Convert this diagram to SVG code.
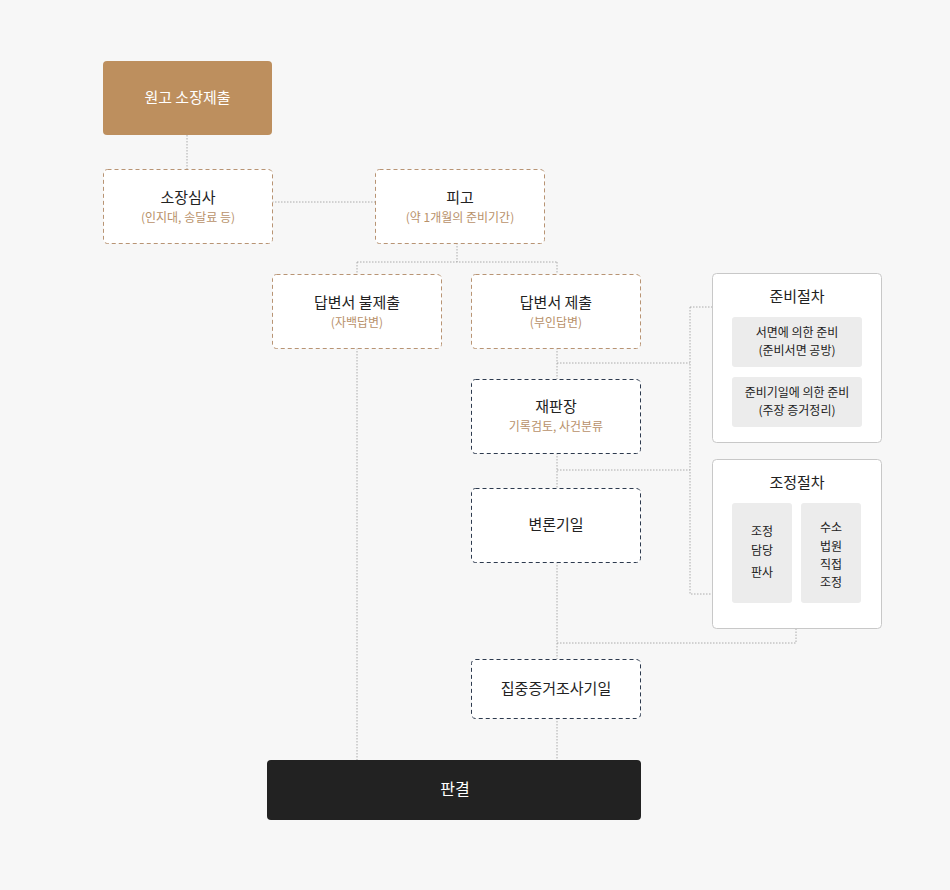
<svg xmlns="http://www.w3.org/2000/svg" width="950" height="890" viewBox="0 0 950 890">
<style>
text{font-family:"Noto Sans CJK KR","Noto Sans",sans-serif;text-anchor:middle}
.t{font-size:15px;fill:#222}
.s{font-size:12px;fill:#b8916a}
.tan{fill:#fff;stroke:#b89474;stroke-dasharray:4 3}
.navy{fill:#fff;stroke:#2d3a4e;stroke-dasharray:4 3}
.panel{fill:#fff;stroke:#c8c8c8}
.gray{fill:#ececec}
.g{font-size:12px;fill:#222}
.c{fill:none;stroke:#999;stroke-width:0.8;stroke-dasharray:1.5 1.5}
</style>
<rect width="950" height="890" fill="#f7f7f7"/>
<g id="connectors">
<path class="c" d="M187 135V169M272 202H375M457 243V262M357 262H557M357 262V274M557 262V274M357 348V760M557 348V379M557 363H690M690 307H712M690 307V594H712M557 453V488M557 470H690M557 562V659M557 643H796V628M557 718V760"/>
</g>
<g id="n1"><rect x="103" y="61" width="169" height="74" rx="4" fill="#bd8f5e"/><text x="187.5" y="103" font-size="15" fill="#fff">원고 소장제출</text></g>
<g id="n2"><rect class="tan" x="103.5" y="169.5" width="169" height="74" rx="4"/><text class="t" x="188" y="203">소장심사</text><text class="s" x="188" y="222">(인지대, 송달료 등)</text></g>
<g id="n3"><rect class="tan" x="375.5" y="169.5" width="169" height="74" rx="4"/><text class="t" x="460" y="203">피고</text><text class="s" x="460" y="222">(약 1개월의 준비기간)</text></g>
<g id="n4"><rect class="tan" x="272.5" y="274.5" width="169" height="74" rx="4"/><text class="t" x="357" y="308">답변서 불제출</text><text class="s" x="357" y="327">(자백답변)</text></g>
<g id="n5"><rect class="tan" x="471.5" y="274.5" width="169" height="74" rx="4"/><text class="t" x="556" y="308">답변서 제출</text><text class="s" x="556" y="327">(부인답변)</text></g>
<g id="n6"><rect class="navy" x="471.5" y="379.5" width="169" height="74" rx="4"/><text class="t" x="556" y="412">재판장</text><text class="s" x="556" y="431">기록검토, 사건분류</text></g>
<g id="n7"><rect class="navy" x="471.5" y="488.5" width="169" height="74" rx="4"/><text class="t" x="556" y="530">변론기일</text></g>
<g id="n8"><rect class="navy" x="471.5" y="659.5" width="169" height="59" rx="4"/><text class="t" x="556" y="694">집중증거조사기일</text></g>
<g id="n9"><rect x="267" y="760" width="374" height="60" rx="4" fill="#222"/><text x="455" y="795" font-size="16" fill="#fff">판결</text></g>
<g id="p1"><rect class="panel" x="712.5" y="273.5" width="169" height="169" rx="4"/><text class="t" x="797" y="302">준비절차</text>
<rect class="gray" x="732" y="317" width="130" height="50" rx="3"/><text class="g" x="797" y="337">서면에 의한 준비</text><text class="g" x="797" y="355">(준비서면 공방)</text>
<rect class="gray" x="732" y="377" width="130" height="50" rx="3"/><text class="g" x="797" y="397">준비기일에 의한 준비</text><text class="g" x="797" y="415">(주장 증거정리)</text></g>
<g id="p2"><rect class="panel" x="712.5" y="459.5" width="169" height="169" rx="4"/><text class="t" x="797" y="488">조정절차</text>
<rect class="gray" x="732" y="503" width="60" height="100" rx="3"/><text class="g" x="762" y="536">조정</text><text class="g" x="762" y="555">담당</text><text class="g" x="762" y="577">판사</text>
<rect class="gray" x="801" y="503" width="60" height="100" rx="3"/><text class="g" x="831" y="532">수소</text><text class="g" x="831" y="551">법원</text><text class="g" x="831" y="569">직접</text><text class="g" x="831" y="587">조정</text></g>
</svg>
